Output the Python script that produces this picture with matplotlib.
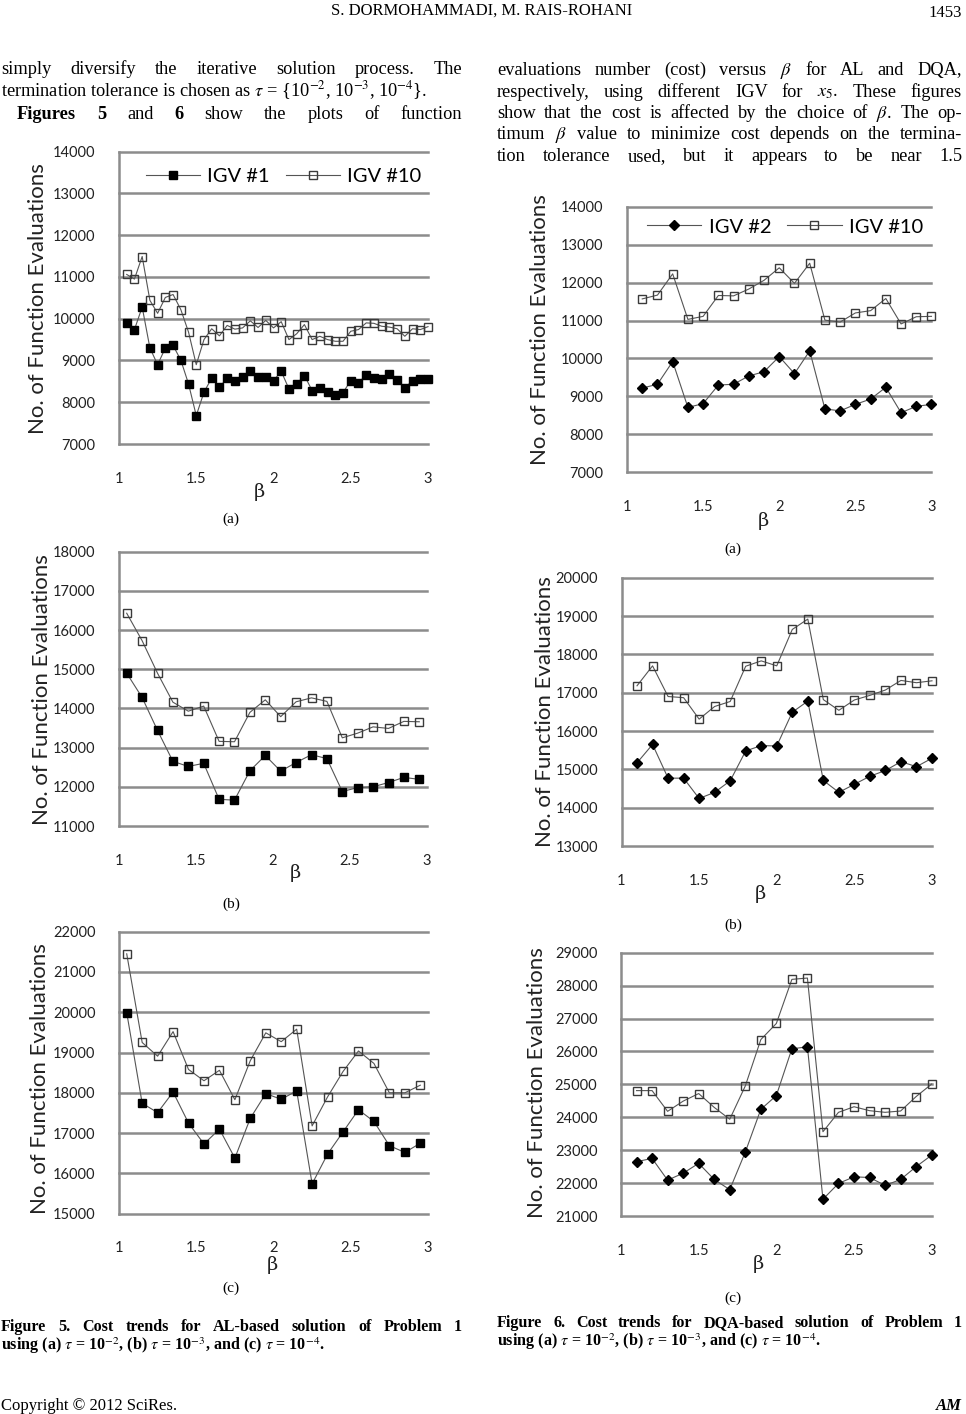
import numpy as np
import matplotlib
matplotlib.use('Agg')
import matplotlib.pyplot as plt

W, H = 966, 1414

# beta values
beta_5a = [1.05, 1.10, 1.15, 1.20, 1.25, 1.30, 1.35, 1.40, 1.45, 1.50,
           1.55, 1.60, 1.65, 1.70, 1.75, 1.80, 1.85, 1.90, 1.95, 2.00,
           2.05, 2.10, 2.15, 2.20, 2.25, 2.30, 2.35, 2.40, 2.45, 2.50,
           2.55, 2.60, 2.65, 2.70, 2.75, 2.80, 2.85, 2.90, 2.95, 3.00]
beta_5bc = [1.05, 1.15, 1.25, 1.35, 1.45, 1.55, 1.65, 1.75, 1.85, 1.95,
            2.05, 2.15, 2.25, 2.35, 2.45, 2.55, 2.65, 2.75, 2.85, 2.95]
beta_6 = [1.1, 1.2, 1.3, 1.4, 1.5, 1.6, 1.7, 1.8, 1.9, 2.0,
          2.1, 2.2, 2.3, 2.4, 2.5, 2.6, 2.7, 2.8, 2.9, 3.0]

# Figure 5 (AL)
al_a_igv1 = [9900, 9740, 10280, 9300, 8900, 9300, 9360, 9010, 8440, 7680,
             8240, 8580, 8360, 8580, 8520, 8600, 8760, 8600, 8600, 8520,
             8740, 8320, 8440, 8640, 8280, 8340, 8240, 8180, 8230, 8520,
             8460, 8660, 8580, 8560, 8680, 8540, 8340, 8520, 8550, 8550]
al_a_igv10 = [11060, 10950, 11490, 10440, 10130, 10510, 10580, 10220, 9680, 8900,
              9500, 9760, 9590, 9840, 9750, 9780, 9950, 9790, 9960, 9780,
              9930, 9500, 9640, 9860, 9500, 9580, 9500, 9460, 9460, 9700,
              9740, 9900, 9890, 9820, 9800, 9760, 9580, 9760, 9740, 9810]
al_b_igv1 = [14900, 14280, 13440, 12650, 12520, 12600, 11680, 11660, 12410, 12800,
             12400, 12620, 12820, 12720, 11880, 11980, 12000, 12110, 12240, 12190]
al_b_igv10 = [16430, 15730, 14900, 14160, 13930, 14060, 13160, 13150, 13900, 14220,
              13790, 14170, 14270, 14180, 13250, 13370, 13530, 13490, 13670, 13660]
al_c_igv1 = [19990, 17740, 17510, 18020, 17250, 16730, 17100, 16380, 17370, 17980,
             17840, 18050, 15740, 16480, 17030, 17580, 17290, 16690, 16520, 16750]
al_c_igv10 = [21450, 19250, 18910, 19520, 18580, 18300, 18560, 17830, 18800, 19490,
              19270, 19580, 17180, 17900, 18530, 19040, 18730, 18000, 18000, 18190]

# Figure 6 (DQA)
dqa_a_igv2 = [9220, 9320, 9920, 8710, 8810, 9300, 9320, 9540, 9650, 10050,
              9600, 10200, 8670, 8620, 8790, 8930, 9240, 8570, 8740, 8790]
dqa_a_igv10 = [11570, 11670, 12230, 11030, 11110, 11660, 11650, 11830, 12060, 12390,
               11980, 12510, 11010, 10960, 11200, 11260, 11580, 10910, 11100, 11110]
dqa_b_igv2 = [15170, 15650, 14770, 14770, 14240, 14400, 14700, 15480, 15620, 15610,
              16490, 16780, 14710, 14400, 14610, 14820, 14970, 15200, 15070, 15290]
dqa_b_igv10 = [17180, 17700, 16900, 16870, 16310, 16640, 16770, 17690, 17830, 17700,
               18650, 18920, 16820, 16540, 16810, 16930, 17070, 17320, 17260, 17310]
dqa_c_igv2 = [22650, 22750, 22090, 22300, 22600, 22110, 21800, 22940, 24240, 24660,
              26080, 26140, 21510, 21990, 22190, 22170, 21930, 22110, 22500, 22850]
dqa_c_igv10 = [24810, 24810, 24180, 24490, 24720, 24300, 23940, 24950, 26360, 26850,
               28190, 28230, 23560, 24150, 24320, 24200, 24150, 24190, 24630, 25010]

xtick_vals = [1, 1.5, 2, 2.5, 3]
xtick_labels = ['1', '1.5', '2', '2.5', '3']

plt.rcParams['font.family'] = ['Lato', 'DejaVu Sans']
plt.rcParams['mathtext.fontset'] = 'stix'

fig = plt.figure(figsize=(W / 100, H / 100), dpi=100)
renderer = fig.canvas.get_renderer()
SERIF = 'Liberation Serif'
GRID = '#8c8c8c'


def fy(y):
    return 1 - y / H


def chart(box, xs, s1, s2, ylim, mk1, lab1, ylab_xy, beta_xy, legend_at=None):
    x0, y0, x1, y1 = box
    ax = fig.add_axes([x0 / W, 1 - y1 / H, (x1 - x0) / W, (y1 - y0) / H])
    if mk1 == 's':
        ax.plot(xs, s1, color='#555555', lw=0.8, marker='s', ms=6.0,
                mfc='black', mec='black', label=lab1, clip_on=False, zorder=3)
    else:
        ax.plot(xs, s1, color='#555555', lw=0.8, marker='D', ms=5.6,
                mfc='black', mec='black', label=lab1, clip_on=False, zorder=3)
    ax.plot(xs, s2, color='#555555', lw=0.8, marker='s', ms=6.4,
            mfc='none', mec='#3a3a3a', mew=1.0, label='IGV #10', clip_on=False, zorder=3)
    ax.set_xlim(1, 3)
    ax.set_ylim(*ylim)
    ax.set_xticks(xtick_vals)
    ax.set_xticklabels(xtick_labels)
    ax.set_yticks(np.arange(ylim[0], ylim[1] + 1, 1000))
    ax.yaxis.grid(True, color=GRID, lw=1.8)
    for gl in ax.get_ygridlines():
        gl.set_clip_on(False)
    for s in ['top', 'right', 'bottom']:
        ax.spines[s].set_visible(False)
    ax.spines['left'].set_color(GRID)
    ax.spines['left'].set_linewidth(1.8)
    ax.tick_params(axis='y', length=0, labelsize=10.5, pad=17, colors='#222222')
    ax.tick_params(axis='x', length=0, labelsize=10.5, pad=20, colors='#222222')
    ax.set_axisbelow(True)
    fig.text(ylab_xy[0] / W, fy(ylab_xy[1]), 'No. of Function Evaluations',
             rotation=90, ha='center', va='center', fontsize=16, color='#222222')
    fig.text(beta_xy[0] / W, fy(beta_xy[1]), 'β', ha='center', va='center',
             fontsize=14, color='#222222', family=['DejaVu Serif'])
    if legend_at is not None:
        ax.legend(loc='center left', bbox_to_anchor=legend_at, ncol=2, frameon=False,
                  fontsize=14.5, handlelength=2.7, handletextpad=0.35,
                  columnspacing=0.8, borderpad=0, borderaxespad=0)
    return ax


chart((119, 151.7, 428, 444), beta_5a, al_a_igv1, al_a_igv10, (7000, 14000), 's', 'IGV #1',
      (38, 299), (259, 492), legend_at=(0.087, 1 - 25 / 292.3))
chart((119, 551.7, 427, 826), beta_5bc, al_b_igv1, al_b_igv10, (11000, 18000), 's', 'IGV #1',
      (42, 690), (295, 873))
chart((119, 931.7, 428, 1213.7), beta_5bc, al_c_igv1, al_c_igv10, (15000, 22000), 's', 'IGV #1',
      (40, 1079), (272, 1265))
chart((627, 206.7, 931.5, 472.3), beta_6, dqa_a_igv2, dqa_a_igv10, (7000, 14000), 'D', 'IGV #2',
      (540, 330), (763, 521), legend_at=(0.066, 1 - 20.3 / 265.6))
chart((621.5, 577.7, 932, 846), beta_6, dqa_b_igv2, dqa_b_igv10, (13000, 20000), 'D', 'IGV #2',
      (545, 712), (760, 894))
chart((621, 952.7, 931.7, 1216), beta_6, dqa_c_igv2, dqa_c_igv10, (21000, 29000), 'D', 'IGV #2',
      (537, 1083), (758, 1264))


def justify(parts, x0, x1, y, size):
    texts = [fig.text(0, fy(y), s, fontsize=size, va='baseline', ha='left',
                      family=SERIF, **kw) for s, kw in parts]
    widths = [t.get_window_extent(renderer).width for t in texts]
    gap = ((x1 - x0) - sum(widths)) / (len(texts) - 1)
    x = x0
    for t, w in zip(texts, widths):
        t.set_x(x / W)
        x += w + gap


def plain(s, x, y, size, ha='left', **kw):
    fig.text(x / W, fy(y), s, fontsize=size, va='baseline', ha=ha, family=SERIF, **kw)


def words(s, **kw):
    return [(w, kw) for w in s.split()]


BODY = 13.2
# header
plain('S. DORMOHAMMADI, M. RAIS-ROHANI', 482, 15, 12, ha='center')
plain('1453', 962, 17, 12, ha='right')

# left column text
justify(words('simply diversify the iterative solution process. The'), 1, 462, 74, BODY)
plain(r'termination tolerance is chosen as $\tau$ = {10$^{-2}$, 10$^{-3}$, 10$^{-4}$}.', 1, 96, BODY)
justify([('Figures', dict(weight='bold')), ('5', dict(weight='bold')), ('and', {}),
         ('6', dict(weight='bold'))] + words('show the plots of function'), 17, 462, 119, BODY)

# right column text
justify(words('evaluations number (cost) versus') + [(r'$\beta$', {})] + words('for AL and DQA,'),
        497, 962, 75, BODY)
justify(words('respectively, using different IGV for') + [(r'$x_5$.', {})] + words('These figures'),
        497, 962, 97, BODY)
justify(words('show that the cost is affected by the choice of') + [(r'$\beta$.', {})] + words('The op-'),
        497, 962, 118, BODY)
justify(words('timum') + [(r'$\beta$', {})] + words('value to minimize cost depends on the termina-'),
        497, 962, 139, BODY)
justify(words('tion tolerance used, but it appears to be near 1.5'), 497, 962, 161, BODY)

# sub-figure labels
for x, y, s in [(231, 523, '(a)'), (231, 908, '(b)'), (231, 1292, '(c)'),
                (733, 553, '(a)'), (733, 929, '(b)'), (733, 1302, '(c)')]:
    plain(s, x, y, 11, ha='center')

# captions
justify(words('Figure 5. Cost trends for AL-based solution of Problem 1', weight='bold'),
        1, 462, 1331, 11.6)
plain(r'using (a) $\tau$ = 10$^{-2}$, (b) $\tau$ = 10$^{-3}$, and (c) $\tau$ = 10$^{-4}$.',
      1, 1350, 11.6, weight='bold')
justify(words('Figure 6. Cost trends for DQA-based solution of Problem 1', weight='bold'),
        497, 962, 1327, 11.6)
plain(r'using (a) $\tau$ = 10$^{-2}$, (b) $\tau$ = 10$^{-3}$, and (c) $\tau$ = 10$^{-4}$.',
      497, 1346, 11.6, weight='bold')

# footer
plain('Copyright © 2012 SciRes.', 1, 1410, 12)
plain('AM', 962, 1410, 12, ha='right', weight='bold', style='italic')

fig.savefig('out.png', dpi=100)
